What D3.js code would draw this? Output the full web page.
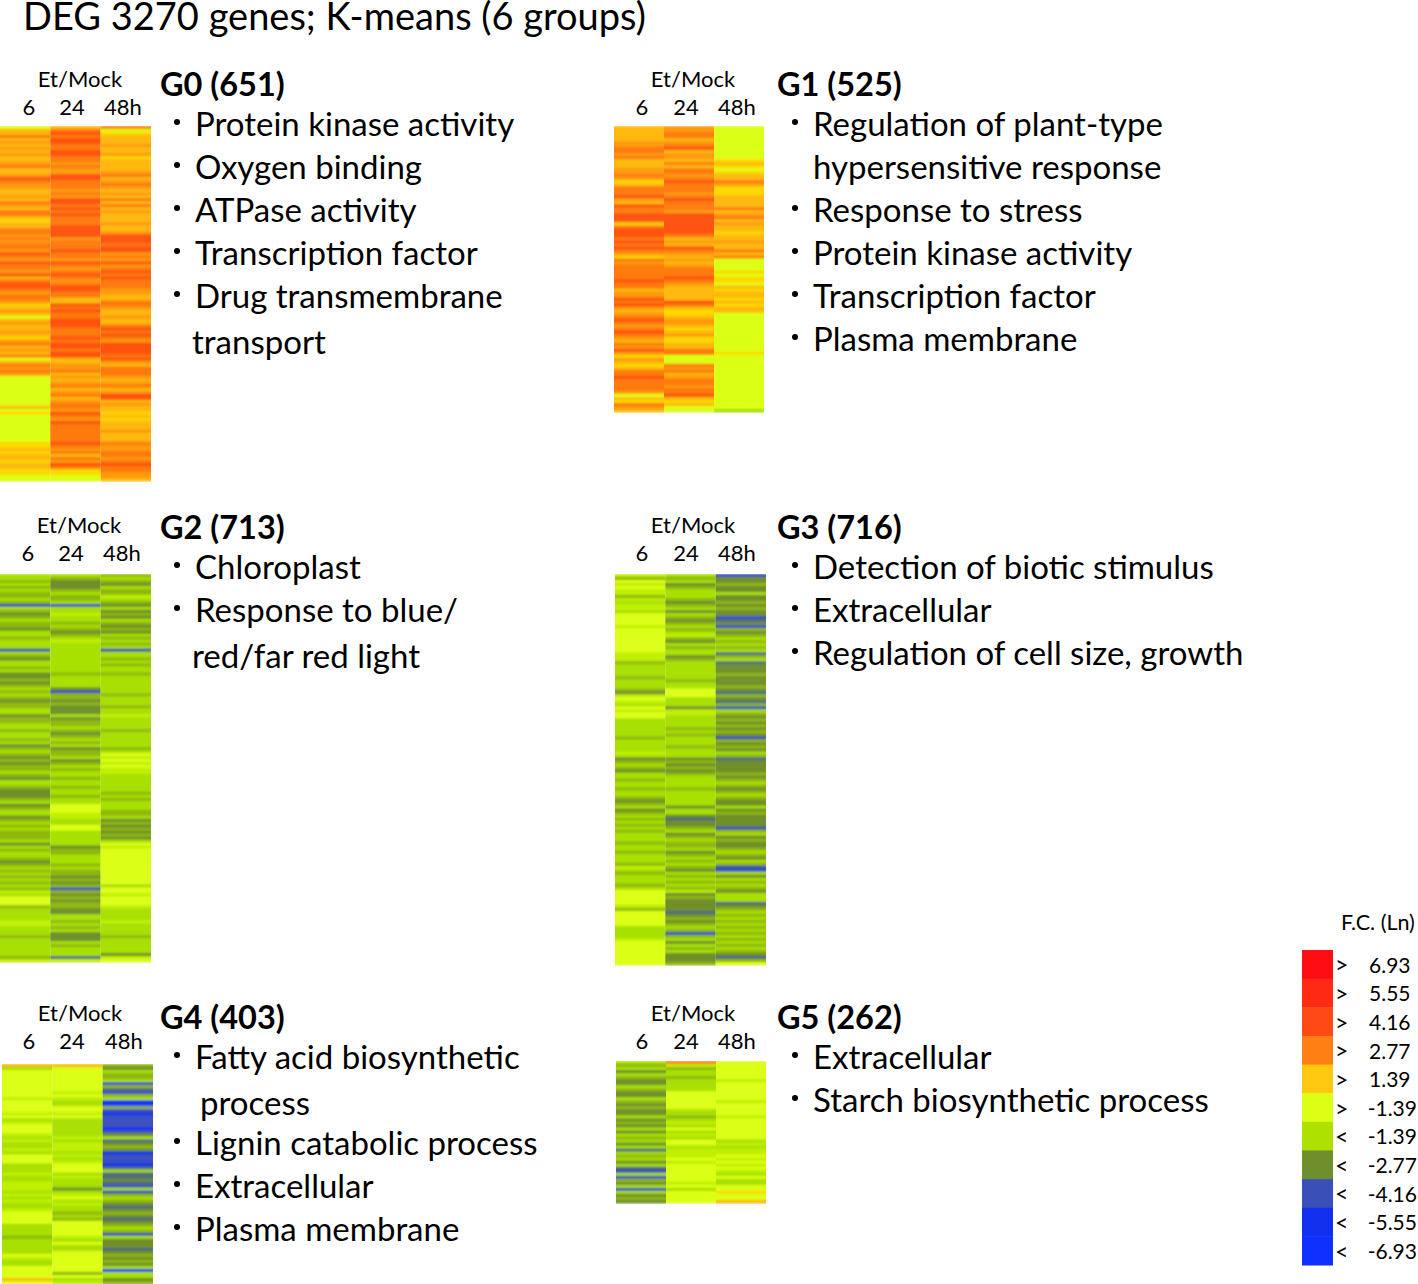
<!DOCTYPE html>
<html>
<head>
<meta charset="utf-8">
<script src="https://cdn.jsdelivr.net/npm/d3@7"></script>
<style>
	html, body { margin: 0; padding: 0; background: #fff; overflow: hidden; }
	text { font-family: Lato, "Noto Sans", sans-serif; fill: #000; }
</style>
</head>
<body>
<svg id="chart" width="1418" height="1284"></svg>
<script>
// Each string is one heatmap column, one letter per row, grouped by ten rows
var g0_6 = "laaoamamam aamoaamrom maamaomaoo ayaaoomomo omromroomr aorromoomy amalamaama ymoamaolao momlllllll lllalyllll lllllyyaya ayaayyll";
var g0_24 = "aororroorr oomommrroo omomrroror ooorrrrmoo oroomromor omorrooaar oroorrrooo rorrorraam moamamoamo amoomromro oooooromoa omroyyll";
var g0_48 = "olyaaamaam yaaaamoamo mamaoaoama aamaamrrro rrmomrmoro rooommaaoo maamaaoror omrrrrorma ooomamoamr ramaayayaa amaaaommoo moroomma";

var g1_6 = "aaaaammoom oaaammomya ooormaroor rryorrroro romyomoooo orooammror mamoromoro maomrmymay aoorooooml ayoma";
var g1_24 = "mmooamoram maoaoomoro oomorooomr rrrrrroama romamamooo romaaaaaro ayyammayam yyaaoolllo moamoomoor ayall";
var g1_48 = "llllllllll lyaylyaaom yyyaaaaoam oamaayaama aoaollllyl yylayaayay aallllllll lllllyllll llllllllll llllg";

var g2_6 = "ggvgvgvvgv bgvdvgvvdg gvgggbgvdg gvgddvdvgv gvdvvggdvv ggvggvgdvg vdvdvvgvdg gvdddvgdvg gdvgvgvvvg dgvggvdvgv gvgvgvhgll lvgggghhgg gvggggggvh";
var g2_24 = "gvdddvgvvg bgghggvgvd vghggggggg gggvggggdb vvdvdddgdv vgvdvgvgdv vgdvgvggvg gvggvgglll hhggllgggg gdvvgggvgv vdvdvbvdvd vvddggvgvg dddgvgggnh";
var g2_48 = "vgvdgvvhgv dgdvdgvdvd gvgvgbggvg vggvgggggg vgggvgghgg ggvgggggvg lhlhlhhggg gggvgvgggv vgdvdvdvdg lhllllllll llllgllhll lhgggghggg gvgggggdhl";

var g3_6 = "hvlhlhhvhg hhgllllhll llllllhhhv ggggvgggvd hlhglhllgg ggggvggggh gdvgvdggvg gvggvdvgdv gvgvgvgggv ggvgggvhgv gggvglllll hvlllllggg ghllllllll";
var g3_24 = "gvgdvgggvd vgdgvdvgvg hvdgvggdvg gggggvggll lgggdhhggg gvgvgggvgg gdvdvdvggg gvgggggdgg dnddvgdvgv vgdvgvgvdg vgvgvhdvdd ddndvdvgvb vgdgvgdddv";
var g3_48 = "bddvddgddv dvddbndbvd vgvgvgnvgn dddvdddvdn vdnvbgvdvd vdvdbvdvdg vnddddvdvg vdvgvddgdv ddddbvgdvd dvgvdgvbbg dgvgvdgggn dvgvgvgvgv gvgvgvdnvl";

var g4_6 = "agllllllll lhllllhlgh lllhghgghg lllggghggh hhghghgghl lllggggvgg ggglhgglll lal";
var g4_24 = "allllllllh lhggllhlgg gggghghhhg hghlllghgg gdghlghggv gvlllllhgl gglllllllv lgh";
var g4_48 = "vdgvvgbvnb vguuvbubbb bubdgndvdu bbbungnndn bgbvgvdndv dndvgvbgdd dndvdvdgug gdv";

var g5_6 = "gvgdgvddgv ddgvdvddgd vdgdgvgdgn gvgdgnbgbv dgbgdvd";
var g5_24 = "ohvggvgggg llllllggvg hglghgllgh hhlhllllll hlgllll";
var g5_48 = "llllllhlll lllhllllhl llllllghgh hlhlhlhglg gllylla";

var groupNames = ["G0 (651)", "G1 (525)", "G2 (713)", "G3 (716)", "G4 (403)", "G5 (262)"];
var groupColumns = [
	[g0_6, g0_24, g0_48], [g1_6, g1_24, g1_48], [g2_6, g2_24, g2_48],
	[g3_6, g3_24, g3_48], [g4_6, g4_24, g4_48], [g5_6, g5_24, g5_48]
];
var groupTerms = [
	["Protein kinase activity", "Oxygen binding", "ATPase activity", "Transcription factor", "Drug transmembrane", "transport"],
	["Regulation of plant-type", "hypersensitive response", "Response to stress", "Protein kinase activity", "Transcription factor", "Plasma membrane"],
	["Chloroplast", "Response to blue/", "red/far red light"],
	["Detection of biotic stimulus", "Extracellular", "Regulation of cell size, growth"],
	["Fatty acid biosynthetic", "process", "Lignin catabolic process", "Extracellular", "Plasma membrane"],
	["Extracellular", "Starch biosynthetic process"]
];
// 0 = wrapped line of the term above, so no bullet
var groupBullets = [
	[1, 1, 1, 1, 1, 0], [1, 0, 1, 1, 1, 1], [1, 1, 0],
	[1, 1, 1], [1, 0, 1, 1, 1], [1, 1]
];
var timeLabels = ["6", "24", "48h"];

var legendSigns = [">", ">", ">", ">", ">", ">", "<", "<", "<", "<", "<"];
var legendValues = ["6.93", "5.55", "4.16", "2.77", "1.39", "-1.39", "-1.39", "-2.77", "-4.16", "-5.55", "-6.93"];

var rowCodes = ["r", "o", "m", "a", "y", "l", "h", "g", "v", "d", "n", "b", "u"];
var rowColours = ["#ff5210", "#ff7a10", "#ff9a0c", "#ffb80a", "#ffd800", "#dcff14", "#c0f000", "#a8e000", "#8fb80e", "#6f8f2c", "#4f6c80", "#3a4fc0", "#1030f0"];
var legendColours = ["#ff0d14", "#ff2a14", "#ff4a14", "#ff7f14", "#ffc70f", "#dcff14", "#aee000", "#6f8f2c", "#3a4fb8", "#1030ee", "#0f30ff"];

// Layout of each panel
var panels = [
	{ hx: [0, 151], hy: [126, 481], cx: 80, hd: 79, tick: [29, 72, 123], tk: 107, tx: 160, ty: 85, dot: 177, txt: 195, wrap: 192, ys: [124, 167, 210, 253, 296, 342] },
	{ hx: [614, 764], hy: [126, 412], cx: 693, hd: 79, tick: [642, 686, 737], tk: 107, tx: 777, ty: 85, dot: 795, txt: 813, wrap: 813, ys: [124, 167, 210, 253, 296, 339] },
	{ hx: [0, 151], hy: [574, 962], cx: 79, hd: 525, tick: [28, 71, 122], tk: 553, tx: 160, ty: 528, dot: 177, txt: 195, wrap: 192, ys: [567, 610, 656] },
	{ hx: [615, 766], hy: [574, 965], cx: 693, hd: 525, tick: [642, 686, 737], tk: 553, tx: 777, ty: 528, dot: 795, txt: 813, wrap: 813, ys: [567, 610, 653] },
	{ hx: [2, 153], hy: [1064, 1284], cx: 80, hd: 1013, tick: [29, 72, 124], tk: 1041, tx: 160, ty: 1018, dot: 177, txt: 195, wrap: 200, ys: [1057, 1103, 1143, 1186, 1229] },
	{ hx: [616, 766], hy: [1061, 1203], cx: 693, hd: 1013, tick: [642, 686, 737], tk: 1041, tx: 777, ty: 1018, dot: 795, txt: 813, wrap: 813, ys: [1057, 1100] }
];

var svg = d3.select("#chart");
var colour = d3.scaleOrdinal().domain(rowCodes).range(rowColours);

// The reference is a resampled bitmap, rows bleed into each other vertically
svg.append("defs").append("filter")
	.attr("id", "soft")
	.attr("x", 0).attr("y", 0).attr("width", 1).attr("height", 1)
	.append("feGaussianBlur")
	.attr("stdDeviation", "0 0.9")
	.attr("edgeMode", "duplicate");

function label(parent, x, y, str, size, anchor, weight) {
	return parent.append("text")
		.attr("x", x)
		.attr("y", y)
		.attr("dy", "0.35em")
		.attr("text-anchor", anchor || "start")
		.attr("font-size", size)
		.attr("font-weight", weight || 400)
		.text(str);
}

svg.append("text")
	.attr("x", 23)
	.attr("y", 30)
	.attr("font-size", 38)
	.text("DEG 3270 genes; K-means (6 groups)");

panels.forEach(function(p, i) {
	var g = svg.append("g");
	var x = d3.scaleBand().domain(timeLabels).range(p.hx);

	// Heatmap columns
	groupColumns[i].forEach(function(col, c) {
		var rows = col.replace(/ /g, "").split("");
		var y = d3.scaleBand().domain(d3.range(rows.length)).range(p.hy);
		g.append("g")
			.attr("filter", "url(#soft)")
			.selectAll("rect")
			.data(rows)
			.enter()
			.append("rect")
			.attr("x", x(timeLabels[c]))
			.attr("y", function(d, r) { return y(r); })
			.attr("width", x.bandwidth())
			.attr("height", y.bandwidth() + 0.5)
			.attr("fill", function(d) { return colour(d); });
	});

	label(g, p.cx, p.hd, "Et/Mock", 22, "middle");
	timeLabels.forEach(function(t, c) {
		label(g, p.tick[c], p.tk, t, 22, "middle");
	});

	label(g, p.tx, p.ty, groupNames[i], 32.5, "start", 700);
	groupTerms[i].forEach(function(term, t) {
		var bullet = groupBullets[i][t];
		if (bullet) {
			g.append("circle")
				.attr("cx", p.dot)
				.attr("cy", p.ys[t] - 2)
				.attr("r", 3)
				.attr("fill", "#000");
		}
		label(g, bullet ? p.txt : p.wrap, p.ys[t], term, 33);
	});
});

// Legend
var legendY = d3.scaleBand().domain(d3.range(legendValues.length)).range([950, 1265]);
var legend = svg.append("g");

legend.selectAll("rect")
	.data(legendColours)
	.enter()
	.append("rect")
	.attr("x", 1302)
	.attr("y", function(d, i) { return legendY(i); })
	.attr("width", 31)
	.attr("height", legendY.bandwidth() + 0.5)
	.attr("fill", function(d) { return d; });

legendValues.forEach(function(v, i) {
	var cy = legendY(i) + legendY.bandwidth() / 2 + 1;
	label(legend, 1335, cy, legendSigns[i], 23);
	// minus signs are wider in this font, keep the right edge inside the page
	if (v.charAt(0) === "-") {
		label(legend, 1417, cy, v, 21, "end");
	} else {
		label(legend, 1369, cy, v, 21);
	}
});
label(legend, 1341, 922, "F.C. (Ln)", 21.5);
</script>
</body>
</html>
